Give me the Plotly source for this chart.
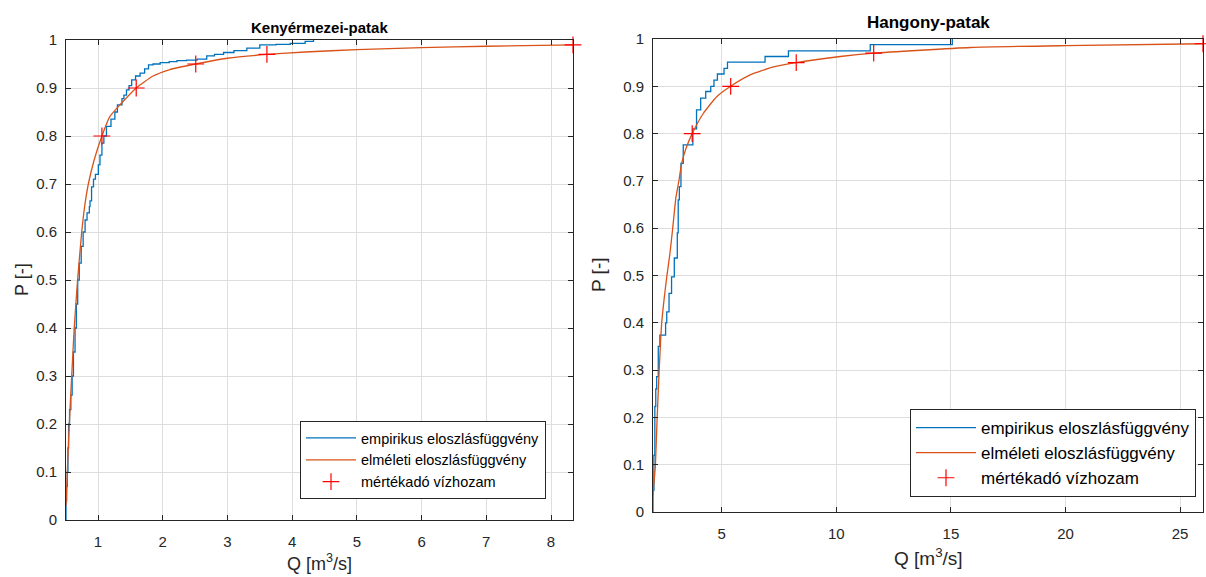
import plotly.graph_objects as go

W, H = 1206, 577

# ---------------- Kenyérmezei-patak (left) ----------------
k_emp_q = [0.505, 0.505, 0.515, 0.525, 0.535, 0.545, 0.56, 0.58, 0.60, 0.62, 0.645, 0.665, 0.686,
           0.71, 0.74, 0.77, 0.80, 0.83, 0.866, 0.876, 0.90, 0.93, 0.96, 1.005, 1.03, 1.06, 1.09,
           1.13, 1.20, 1.26, 1.30, 1.37, 1.40, 1.44, 1.48, 1.52, 1.58, 1.65, 1.72, 1.78, 1.85,
           1.96, 2.10, 2.22, 2.37, 2.53, 2.68, 2.80, 2.94, 3.10, 3.30, 3.50, 3.75, 3.97, 4.20, 4.33]
k_emp_p = [0.0, 0.04, 0.07, 0.10, 0.15, 0.20, 0.23, 0.26, 0.30, 0.35, 0.40, 0.45, 0.50,
           0.535, 0.57, 0.60, 0.625, 0.64, 0.653, 0.665, 0.694, 0.71, 0.72, 0.74, 0.76, 0.785, 0.80,
           0.82, 0.835, 0.85, 0.865, 0.878, 0.885, 0.896, 0.905, 0.917, 0.925, 0.931, 0.94, 0.948, 0.95,
           0.953, 0.955, 0.957, 0.958, 0.960, 0.967, 0.970, 0.974, 0.978, 0.983, 0.99, 0.991, 0.993, 0.997, 1.0]

k_th_q = [0.505, 0.525, 0.556, 0.593, 0.632, 0.684, 0.748, 0.79, 0.85, 0.94, 1.06, 1.18, 1.34,
          1.59, 1.85, 2.10, 2.51, 3.00, 3.61, 4.20, 5.00, 6.00, 7.00, 8.34]
k_th_p = [0.03, 0.10, 0.20, 0.30, 0.40, 0.50, 0.60, 0.65, 0.70, 0.75, 0.80, 0.84, 0.865,
          0.90, 0.925, 0.938, 0.95, 0.962, 0.97, 0.975, 0.980, 0.984, 0.987, 0.99]

k_design_q = [1.06, 1.59, 2.51, 3.61, 8.34]
k_design_p = [0.80, 0.90, 0.95, 0.97, 0.99]

# ---------------- Hangony-patak (right) ----------------
h_emp_q = [2.0, 2.0, 2.04, 2.08, 2.12, 2.16, 2.23, 2.30, 2.55, 2.60, 2.70, 2.81, 2.93, 3.06, 3.10,
           3.15, 3.22, 3.32, 3.74, 3.90, 4.08, 4.30, 4.52, 4.66, 4.81, 5.10, 5.25, 6.89, 7.91, 11.48, 15.06]
h_emp_p = [0.0, 0.046, 0.12, 0.223, 0.26, 0.286, 0.35, 0.374, 0.40, 0.423, 0.462, 0.497, 0.537, 0.59, 0.66,
           0.688, 0.737, 0.776, 0.81, 0.85, 0.875, 0.889, 0.90, 0.913, 0.926, 0.938, 0.951, 0.963, 0.975, 0.988, 1.0]

h_th_q = [1.98, 2.01, 2.10, 2.18, 2.27, 2.38, 2.48, 2.60, 2.74, 2.86, 3.00, 3.13, 3.25, 3.45, 3.71,
          4.20, 4.78, 5.39, 6.24, 7.26, 8.25, 10.17, 11.63, 15.86, 20.0, 26.0]
h_th_p = [0.03, 0.045, 0.096, 0.198, 0.30, 0.40, 0.448, 0.497, 0.547, 0.60, 0.665, 0.70, 0.737, 0.77, 0.80,
          0.843, 0.878, 0.90, 0.924, 0.941, 0.95, 0.963, 0.97, 0.982, 0.986, 0.99]

h_design_q = [3.71, 5.39, 8.25, 11.63, 26.0]
h_design_p = [0.80, 0.90, 0.95, 0.97, 0.99]

names = ["empirikus eloszlásfüggvény", "elméleti eloszlásfüggvény", "mértékadó vízhozam"]
BLUE, ORANGE, RED = "#0072BD", "#D95319", "#FF0000"
FONT = "Liberation Sans"
AXC = "#262626"

fig = go.Figure()

def add_set(eq, ep, tq, tp, dq, dp, xa, ya, leg):
    fig.add_trace(go.Scatter(x=eq, y=ep, mode="lines", line=dict(color=BLUE, width=1.3, shape="hv"),
                             name=names[0], xaxis=xa, yaxis=ya, legend=leg))
    fig.add_trace(go.Scatter(x=tq, y=tp, mode="lines", line=dict(color=ORANGE, width=1.3, shape="spline", smoothing=0.5),
                             name=names[1], xaxis=xa, yaxis=ya, legend=leg))
    fig.add_trace(go.Scatter(x=dq, y=dp, mode="markers",
                             marker=dict(symbol="cross-thin", size=12, line=dict(color=RED, width=1.2), color=RED),
                             name=names[2], xaxis=xa, yaxis=ya, legend=leg, cliponaxis=False))

add_set(k_emp_q, k_emp_p, k_th_q, k_th_p, k_design_q, k_design_p, "x", "y", "legend")
add_set(h_emp_q, h_emp_p, h_th_q, h_th_p, h_design_q, h_design_p, "x2", "y2", "legend2")

def px(x): return x / W
def py(y): return 1 - y / H

axcommon = dict(showline=True, linecolor=AXC, linewidth=1, mirror="ticks", ticks="inside", ticklen=5,
                tickcolor=AXC, showgrid=True, gridcolor="#dedede", gridwidth=1, zeroline=False,
                automargin=False, tickfont=dict(family=FONT, size=15, color=AXC))

yticks = [i / 10 for i in range(11)]
ytext = ["0"] + [f"{v:.1f}" for v in yticks[1:-1]] + ["1"]

fig.update_layout(
    width=W, height=H, margin=dict(l=0, r=0, t=0, b=0, autoexpand=False),
    paper_bgcolor="white", plot_bgcolor="white",
    font=dict(family=FONT, color=AXC),
    xaxis=dict(domain=[px(66), px(573)], range=[0.505, 8.34], tickvals=[1, 2, 3, 4, 5, 6, 7, 8],
               anchor="y", ticklabelstandoff=8, **axcommon),
    yaxis=dict(domain=[py(520), py(40)], range=[0, 1], tickvals=yticks, ticktext=ytext,
               anchor="x", ticklabelstandoff=5, **axcommon),
    xaxis2=dict(domain=[px(653), px(1203)], range=[2.0, 26.0], tickvals=[5, 10, 15, 20, 25],
                anchor="y2", ticklabelstandoff=8, **axcommon),
    yaxis2=dict(domain=[py(512), py(39)], range=[0, 1], tickvals=yticks, ticktext=ytext,
                anchor="x2", ticklabelstandoff=5, **axcommon),
    legend=dict(x=px(546), y=py(499), xanchor="right", yanchor="bottom", itemwidth=50,
                bgcolor="white", bordercolor=AXC, borderwidth=1,
                font=dict(family=FONT, size=14.5, color="#000000"), tracegroupgap=0),
    legend2=dict(x=px(1196), y=py(497), xanchor="right", yanchor="bottom", itemwidth=60,
                 bgcolor="white", bordercolor=AXC, borderwidth=1,
                 font=dict(family=FONT, size=17, color="#000000"), tracegroupgap=0),
    showlegend=True,
)

ann = [
    ("<b>Kenyérmezei-patak</b>", 319.5, 27, 15, 0),
    ("<b>Hangony-patak</b>", 928, 22, 17, 0),
    ("Q [m<sup>3</sup>/s]", 319.5, 562, 18, 0),
    ("Q [m<sup>3</sup>/s]", 928, 557, 19, 0),
    ("P [-]", 22, 280, 18, -90),
    ("P [-]", 598, 275, 19, -90),
]
for t, x, y, s, ang in ann:
    fig.add_annotation(text=t, x=px(x), y=py(y), xref="paper", yref="paper", showarrow=False,
                       xanchor="center", yanchor="middle", textangle=ang,
                       font=dict(family=FONT, size=s, color="#000000" if "<b>" in t else AXC))

fig.write_html("out.html")
